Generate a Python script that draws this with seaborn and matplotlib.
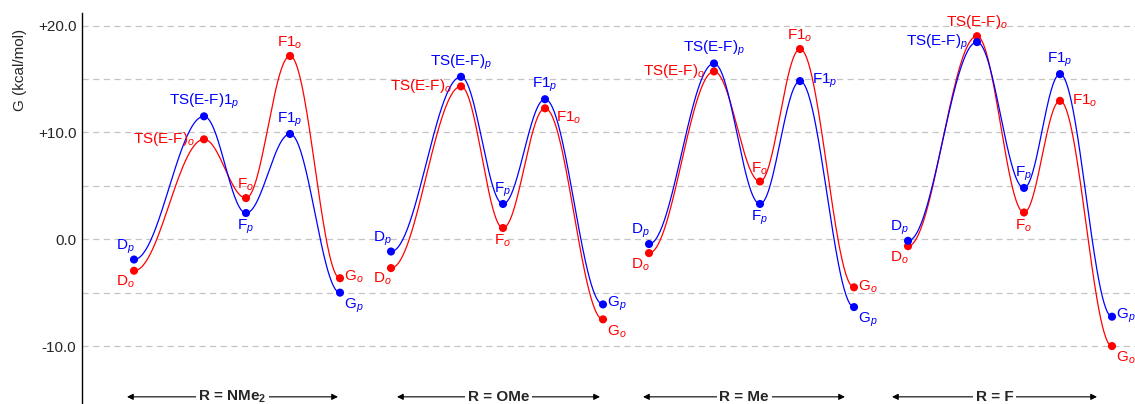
import numpy as np
import pandas as pd
import seaborn as sns
import matplotlib
matplotlib.use('Agg')
import matplotlib.pyplot as plt

# free energies (kcal/mol), order: D, TS(E-F), F, F1, G
states = ['D', 'TS(E-F)', 'F', 'F1', 'G']
panels = ['NMe$_\\mathbf{2}$', 'OMe', 'Me', 'F']

# reaction coordinate position of each state, per panel
nme2_x = [0.52, 1.22, 1.64, 2.08, 2.58]
ome_x = [3.09, 3.79, 4.21, 4.63, 5.21]
me_x = [5.67, 6.32, 6.78, 7.18, 7.72]
f_x = [8.26, 8.95, 9.42, 9.78, 10.30]

nme2_p = [-1.9, 11.5, 2.45, 9.85, -5.0]
nme2_o = [-2.95, 9.35, 3.85, 17.15, -3.65]
ome_p = [-1.15, 15.2, 3.3, 13.1, -6.1]
ome_o = [-2.7, 14.3, 1.05, 12.25, -7.5]
me_p = [-0.45, 16.45, 3.3, 14.8, -6.35]
me_o = [-1.3, 15.7, 5.4, 17.8, -4.5]
f_p = [-0.15, 18.45, 4.8, 15.45, -7.25]
f_o = [-0.65, 19.0, 2.5, 12.95, -10.0]

# span of the "R = ..." arrows under each panel
span_lo = [0.45, 3.15, 5.61, 8.10]
span_hi = [2.56, 5.18, 7.63, 10.15]

sns.set_style('white')
plt.rcParams['font.family'] = ['Liberation Sans', 'DejaVu Sans']
plt.rcParams['mathtext.fontset'] = 'custom'
plt.rcParams['mathtext.rm'] = 'Liberation Sans'
plt.rcParams['mathtext.it'] = 'Liberation Sans:italic'
plt.rcParams['mathtext.bf'] = 'Liberation Sans:bold'

BLUE = '#0000ff'
RED = '#ff0000'

fig = plt.figure(figsize=(11.35, 4.04), dpi=100)
ax = fig.add_axes([82 / 1135, 0, 1 - 82 / 1135, (404 - 13) / 404])

xs = [nme2_x, ome_x, me_x, f_x]
para = [nme2_p, ome_p, me_p, f_p]
ortho = [nme2_o, ome_o, me_o, f_o]


def smooth(x, y, n=60):
    # cosine easing between neighbouring states, flat at every stationary point
    cx, cy = [], []
    for i in range(len(x) - 1):
        t = np.linspace(0, 1, n)
        s = (1 - np.cos(np.pi * t)) / 2
        cx.extend(x[i] + (x[i + 1] - x[i]) * t)
        cy.extend(y[i] + (y[i + 1] - y[i]) * s)
    return pd.DataFrame({'x': cx, 'y': cy})


for x, yo, yp in zip(xs, ortho, para):
    for y, c in [(yo, RED), (yp, BLUE)]:
        sns.lineplot(data=smooth(x, y), x='x', y='y', sort=False, estimator=None,
                     color=c, lw=0.9, ax=ax)
        sns.scatterplot(x=x, y=y, color=c, s=34, edgecolor='none', zorder=5, ax=ax)

# label placement per state (pixels)
place = {
    'above': (0, 5, 'center', 'bottom'),
    'below': (0, -5, 'center', 'top'),
    'left': (-9, 0, 'right', 'center'),
    'right': (4, 1, 'left', 'center'),
    'rightfar': (12, 0, 'left', 'center'),
    'aboveleft': (1, 4, 'right', 'bottom'),
    'belowleft': (1, -3, 'right', 'top'),
    'belowright': (4, -4, 'left', 'top'),
    'belowrightfar': (11, -1, 'left', 'top'),
}
pos_p = [
    ['aboveleft', 'above', 'below', 'above', 'belowright'],
    ['aboveleft', 'above', 'above', 'above', 'right'],
    ['aboveleft', 'above', 'below', 'rightfar', 'belowright'],
    ['aboveleft', 'left', 'above', 'above', 'right'],
]
pos_o = [
    ['belowleft', 'left', 'above', 'above', 'right'],
    ['belowleft', 'left', 'below', 'belowrightfar', 'belowright'],
    ['belowleft', 'left', 'above', 'above', 'right'],
    ['belowleft', 'above', 'below', 'rightfar', 'belowright'],
]

for k in range(4):
    for j, st in enumerate(states):
        for y, sub, c, pos in [(para[k], 'p', BLUE, pos_p[k][j]), (ortho[k], 'o', RED, pos_o[k][j])]:
            name = st
            if k == 0 and j == 1 and sub == 'p':
                name = 'TS(E-F)1'
            dx, dy, ha, va = place[pos]
            ax.annotate(name + '$_{' + sub + '}$', (xs[k][j], y[j]), xytext=(dx, dy),
                        textcoords='offset pixels', ha=ha, va=va, color=c, fontsize=11,
                        zorder=6)

# substituent arrows along the bottom
for lo, hi, name in zip(span_lo, span_hi, panels):
    ax.annotate('', xy=(lo, -14.75), xytext=(hi, -14.75),
                arrowprops=dict(arrowstyle='<|-|>', color='black', lw=0.8,
                                mutation_scale=9, shrinkA=0, shrinkB=0))
    ax.text((lo + hi) / 2, -14.75, 'R = ' + name, ha='center', va='center',
            fontsize=11, fontweight='bold',
            bbox=dict(facecolor='white', edgecolor='none', pad=2))

ax.set_xlim(0, 10.53)
ax.set_ylim(-15.42, 21.17)
ticks = [-10, -5, 0, 5, 10, 15, 20]
ax.set_yticks(ticks)
ax.set_yticklabels(['-10.0', '', '0.0', '', '+10.0', '', '+20.0'], fontsize=11)
ax.tick_params(axis='y', length=0, pad=4)
ax.set_xticks([])
ax.grid(axis='y', color='#c4c4c4', ls=(0, (5, 3.5)), lw=0.9)
ax.set_axisbelow(True)
ax.set_xlabel('')
ax.set_ylabel('')
for side in ['top', 'right', 'bottom']:
    ax.spines[side].set_visible(False)
ax.spines['left'].set_color('black')
ax.spines['left'].set_linewidth(1.0)

fig.text(20 / 1135, 1 - 70 / 404, 'G (kcal/mol)', rotation=90, ha='center', va='center',
         fontsize=11)

fig.savefig('out.png', dpi=100)
